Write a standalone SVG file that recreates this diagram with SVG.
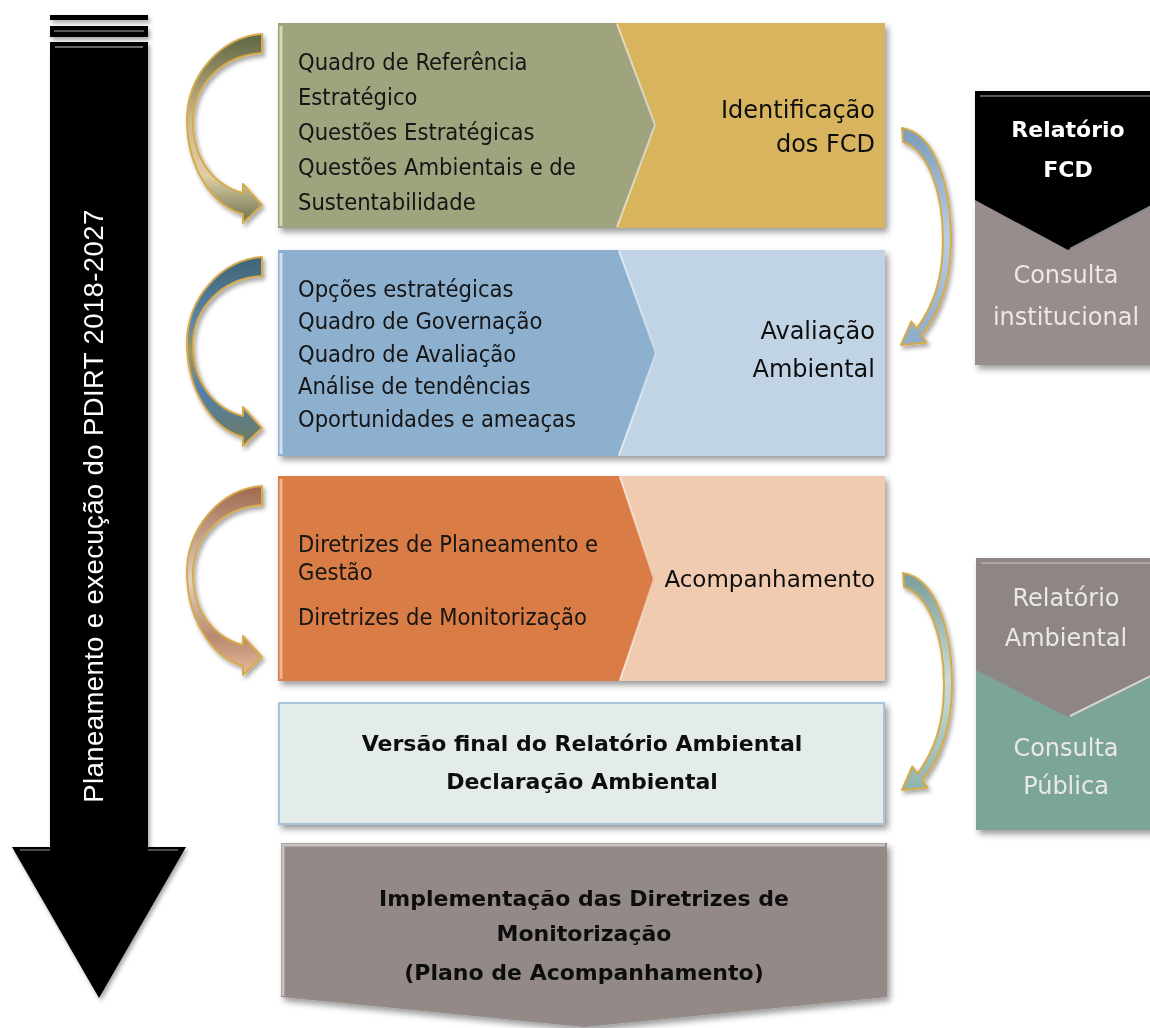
<svg xmlns="http://www.w3.org/2000/svg" width="1150" height="1028" viewBox="0 0 1150 1028">
<defs>
<style>
.lt{font-family:"DejaVu Sans Condensed","DejaVu Sans","Liberation Sans",sans-serif;font-stretch:condensed;font-size:23.5px;fill:#141414}
.rl{font-family:"DejaVu Sans","Liberation Sans",sans-serif;font-size:24px;fill:#111;text-anchor:end}
.bt{font-family:"DejaVu Sans","Liberation Sans",sans-serif;font-size:22px;font-weight:bold;fill:#111;text-anchor:middle}
.wt{font-family:"DejaVu Sans","Liberation Sans",sans-serif;font-size:24px;fill:#ece8e8;text-anchor:middle}
.wb{font-family:"DejaVu Sans","Liberation Sans",sans-serif;font-size:22px;font-weight:bold;fill:#fff;text-anchor:middle}
.hl{fill:none;stroke:#ffffff;stroke-opacity:.55;stroke-width:2}
.ca{stroke:#d6aa4c;stroke-width:2;stroke-linejoin:round}
</style>
<filter id="sh" x="-10%" y="-10%" width="125%" height="130%">
<feDropShadow dx="3" dy="4" stdDeviation="3" flood-color="#000" flood-opacity=".4"/>
</filter>
<filter id="sh2" x="-20%" y="-10%" width="150%" height="130%">
<feDropShadow dx="2" dy="3" stdDeviation="2" flood-color="#000" flood-opacity=".35"/>
</filter>
<linearGradient id="g1" x1="0" y1="0" x2="0" y2="1">
<stop offset="0" stop-color="#5d6644"/><stop offset=".45" stop-color="#cdb98a"/><stop offset=".75" stop-color="#e0cfa5"/><stop offset="1" stop-color="#6a7350"/>
</linearGradient>
<linearGradient id="g2" x1="0" y1="0" x2="0" y2="1">
<stop offset="0" stop-color="#3f6478"/><stop offset=".35" stop-color="#5d86a8"/><stop offset=".5" stop-color="#a89656"/><stop offset=".7" stop-color="#4f80ad"/><stop offset="1" stop-color="#6f7a60"/>
</linearGradient>
<linearGradient id="g3" x1="0" y1="0" x2="0" y2="1">
<stop offset="0" stop-color="#a0684e"/><stop offset=".5" stop-color="#e2d2c4"/><stop offset=".8" stop-color="#b88a6e"/><stop offset="1" stop-color="#e9b99c"/>
</linearGradient>
<linearGradient id="g4" x1="0" y1="0" x2="0" y2="1">
<stop offset="0" stop-color="#7c9cba"/><stop offset=".5" stop-color="#b9cde0"/><stop offset="1" stop-color="#8eaac6"/>
</linearGradient>
<linearGradient id="g5" x1="0" y1="0" x2="0" y2="1">
<stop offset="0" stop-color="#7a9e98"/><stop offset=".5" stop-color="#c9dcd7"/><stop offset="1" stop-color="#8fb3ad"/>
</linearGradient>
<path id="la" d="M262,34 C222,36 187,75 187,120 C187,165 210,205 243,214 L243,223 L262,205 L243,184 L243,193 C215,186 193,160 193,122 C193,85 222,55 262,53 Z"/>
<path id="ra" d="M902,128 C935,133 951,185 951,240 C951,283 940,312 921.4,335.2 L926.7,342.5 L901,345 L911.3,321.5 L916.6,328.8 C933,306 943,280 943,240 C943,192 928,150 903,142 Z"/>
</defs>
<rect width="1150" height="1028" fill="#fff"/>

<g id="timeline" filter="url(#sh2)">
<rect x="50" y="15" width="98" height="5" fill="#000"/>
<rect x="50" y="26" width="98" height="11" fill="#000"/>
<line x1="54" y1="31" x2="144" y2="31" stroke="#777" stroke-width="1.5"/>
<path d="M50,42 H148 V847 H186 L99,998 L12,847 H50 Z" fill="#000"/>
<line x1="55" y1="47" x2="143" y2="47" stroke="#888" stroke-width="1.5"/>
<line x1="20" y1="850" x2="50" y2="850" stroke="#666" stroke-width="1.5"/>
<line x1="148" y1="850" x2="178" y2="850" stroke="#666" stroke-width="1.5"/>
<text transform="translate(103,506) rotate(-90)" font-family="Liberation Sans, Arial, sans-serif" font-size="27.5" fill="#fff" text-anchor="middle" letter-spacing="0.4">Planeamento e execução do PDIRT 2018-2027</text>
</g>

<g id="row1" filter="url(#sh)">
<rect x="278" y="23" width="607" height="205" fill="#d8b45e"/>
<polygon points="278,23 616,23 656,125 616,228 278,228" fill="#9fa47e"/>
<polyline class="hl" points="617,24 655,125 617,227"/>
<line x1="281" y1="26" x2="281" y2="226" stroke="#d3d8b6" stroke-width="3"/>
<text class="lt" x="298" y="70">Quadro de Referência</text>
<text class="lt" x="298" y="105">Estratégico</text>
<text class="lt" x="298" y="140">Questões Estratégicas</text>
<text class="lt" x="298" y="175">Questões Ambientais e de</text>
<text class="lt" x="298" y="210">Sustentabilidade</text>
<text class="rl" x="875" y="118">Identificação</text>
<text class="rl" x="875" y="152">dos FCD</text>
</g>

<g id="row2" filter="url(#sh)">
<rect x="278" y="250" width="607" height="206" fill="#c0d4e6"/>
<polygon points="278,250 618,250 657,353 618,456 278,456" fill="#8eb0cf"/>
<polyline class="hl" points="619,251 656,353 619,455"/>
<line x1="281" y1="253" x2="281" y2="454" stroke="#cfe0f0" stroke-width="3"/>
<text class="lt" x="298" y="297">Opções estratégicas</text>
<text class="lt" x="298" y="329">Quadro de Governação</text>
<text class="lt" x="298" y="362">Quadro de Avaliação</text>
<text class="lt" x="298" y="394">Análise de tendências</text>
<text class="lt" x="298" y="427">Oportunidades e ameaças</text>
<text class="rl" x="875" y="339">Avaliação</text>
<text class="rl" x="875" y="377">Ambiental</text>
</g>

<g id="row3" filter="url(#sh)">
<rect x="278" y="476" width="607" height="205" fill="#f0cbb0"/>
<polygon points="278,476 619,476 655,579 619,681 278,681" fill="#d97c45"/>
<polyline class="hl" points="620,477 654,579 620,680"/>
<line x1="281" y1="479" x2="281" y2="679" stroke="#f2b48c" stroke-width="3"/>
<text class="lt" x="298" y="552">Diretrizes de Planeamento e</text>
<text class="lt" x="298" y="580">Gestão</text>
<text class="lt" x="298" y="625">Diretrizes de Monitorização</text>
<text class="rl" x="875" y="587" style="font-size:23px">Acompanhamento</text>
</g>

<g id="final" filter="url(#sh)">
<rect x="279" y="703" width="605" height="121" fill="#e4ecea" stroke="#a8c4dc" stroke-width="2"/>
<text class="bt" x="582" y="751">Versão final do Relatório Ambiental</text>
<text class="bt" x="582" y="789">Declaração Ambiental</text>
</g>

<g id="implement" filter="url(#sh)">
<polygon points="281,843 887,843 887,997 584,1027 281,997" fill="#938a87"/>
<polyline points="283,996 283,845 885,845" fill="none" stroke="#c9c2c0" stroke-width="3"/>
<text class="bt" x="584" y="906">Implementação das Diretrizes de</text>
<text class="bt" x="584" y="941">Monitorização</text>
<text class="bt" x="584" y="980">(Plano de Acompanhamento)</text>
</g>

<g id="relatorio-fcd" filter="url(#sh)">
<rect x="975" y="91" width="190" height="274" fill="#978d8d"/>
<polygon points="975,91 1161,91 1161,200 1068,250 975,200" fill="#000"/>
<line x1="980" y1="96" x2="1156" y2="96" stroke="#777" stroke-width="1.5"/>
<line x1="1070" y1="249" x2="1161" y2="201" stroke="#888" stroke-width="2"/>
<text class="wb" x="1068" y="137">Relatório</text>
<text class="wb" x="1068" y="177">FCD</text>
<text class="wt" x="1066" y="283">Consulta</text>
<text class="wt" x="1066" y="325">institucional</text>
</g>

<g id="relatorio-ambiental" filter="url(#sh)">
<rect x="976" y="558" width="190" height="272" fill="#7aa598"/>
<polygon points="976,558 1161,558 1161,670 1068,717 976,670" fill="#8e8585"/>
<line x1="981" y1="563" x2="1156" y2="563" stroke="#b7afaf" stroke-width="1.5"/>
<line x1="1070" y1="716" x2="1161" y2="671" stroke="#d8d2d2" stroke-width="2"/>
<text class="wt" x="1066" y="606">Relatório</text>
<text class="wt" x="1066" y="646">Ambiental</text>
<text class="wt" x="1066" y="756">Consulta</text>
<text class="wt" x="1066" y="794">Pública</text>
</g>

<g id="connectors" filter="url(#sh2)">
<use href="#la" class="ca" fill="url(#g1)"/>
<use href="#la" class="ca" fill="url(#g2)" transform="translate(0,223)"/>
<use href="#la" class="ca" fill="url(#g3)" transform="translate(0,452)"/>
<use href="#ra" class="ca" fill="url(#g4)"/>
<use href="#ra" class="ca" fill="url(#g5)" transform="translate(1,445)"/>
</g>
</svg>
